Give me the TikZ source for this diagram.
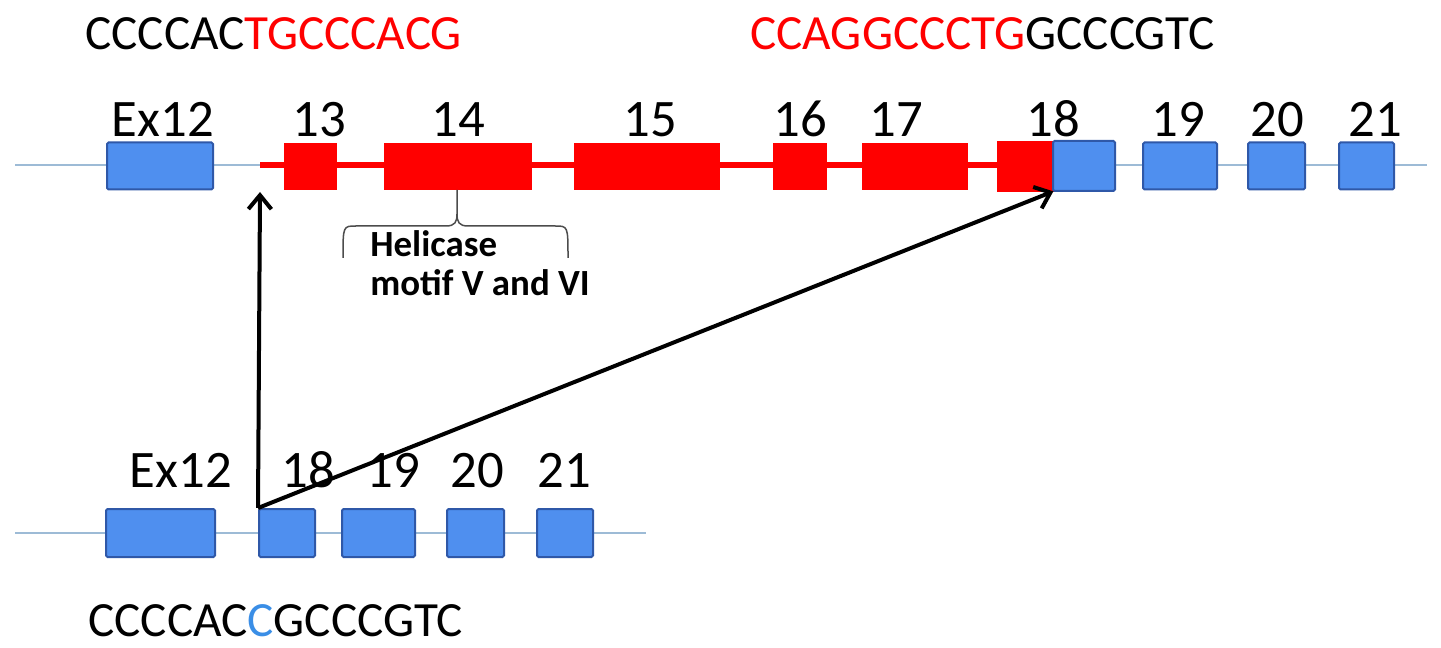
\documentclass[tikz,border=0pt]{standalone}
\usepackage{fontspec}
\setmainfont{Carlito}
\usepackage{tikz}
\usetikzlibrary{arrows.meta, positioning}

\definecolor{exonblue}{HTML}{4F8FEF}
\definecolor{exonedge}{HTML}{2F58A8}
\definecolor{intron}{HTML}{9DBBD6}
\definecolor{mutblue}{HTML}{3A8EE6}

\begin{document}
\begin{tikzpicture}[x=0.2mm, y=-0.2mm,
  exon/.style = {draw=exonedge, fill=exonblue, line width=0.4mm, rounded corners=0.3mm,
                 inner sep=0, minimum height=9.4mm},
  lost/.style = {draw=red, fill=red, inner sep=0, minimum height=9.2mm},
  num/.style = {anchor=base, font=\fontsize{30}{36}\selectfont},
  seq/.style = {anchor=base west, inner sep=0, font=\fontsize{28}{34}\selectfont},
  jump/.style = {-{Straight Barb[length=2.8mm, width=4.6mm]}, line width=0.8mm}]
  \path [use as bounding box] (0,0) rectangle (1441,648);

  % backbones
  \coordinate (topL) at (15,165);
  \coordinate (topR) at (1427,165);
  \coordinate (botL) at (15,533);
  \coordinate (botR) at (646,533);
  \coordinate (splice) at (260,165);
  \coordinate (redend) at (1000,165);
  \draw [intron, line width=0.35mm] (topL) -- (topR);
  \draw [intron, line width=0.35mm] (botL) -- (botR);
  \draw [red, line width=1.2mm] (splice) -- (redend);

  % wild type
  \node (tEx12) [exon, minimum width=21.2mm] at (160,166) {};
  \node (t13) [lost, minimum width=10.4mm] at (310,166) {};
  \node (t14) [lost, minimum width=29.4mm] at (457.5,166) {};
  \node (t15) [lost, minimum width=29mm] at (646.5,166) {};
  \node (t16) [lost, minimum width=10.6mm] at (799.5,166) {};
  \node (t17) [lost, minimum width=21mm] at (914.5,166) {};
  \node (t18a) [lost, minimum width=11.2mm, minimum height=10mm] at (1025,166) {};
  \node (t18b) [exon, minimum width=12.4mm, minimum height=10mm] at (1084,166) {};
  \node (t19) [exon, minimum width=14.8mm] at (1180,166) {};
  \node (t20) [exon, minimum width=11.4mm] at (1276.5,166) {};
  \node (t21) [exon, minimum width=11mm] at (1366.5,166) {};

  \node (lEx12) [num] at (163,137) {Ex12};
  \node (l13) [num] at (319,137) {13};
  \node (l14) [num] at (458,137) {14};
  \node (l15) [num] at (650,137) {15};
  \node (l16) [num] at (800,137) {16};
  \node (l17) [num] at (896,137) {17};
  \node (l18) [num] at (1053,137) {18};
  \node (l19) [num] at (1178,137) {19};
  \node (l20) [num] at (1277,137) {20};
  \node (l21) [num] at (1375,137) {21};

  \node (seqA) [seq] at (85,50) {CCCCAC\textcolor{red}{TGCCCACG}};
  \node (seqB) [seq] at (750,50) {\textcolor{red}{CCAGGCCCTG}GCCCGTC};

  % helicase motifs
  \coordinate (braceL) at (343,258);
  \coordinate (braceR) at (568,258);
  \coordinate (braceTip) at (457,190);
  \draw [line width=0.3mm, black!70]
    (braceL) .. controls (343,226) .. (356,226) -- (446,226)
    .. controls (455,226) and (457,222) .. (457,214) -- (braceTip)
    (457,214) .. controls (457,222) and (459,226) .. (468,226) -- (555,226)
    .. controls (568,226) .. (braceR);
  \node (motif) [anchor=base west, align=left, inner sep=0,
                 font=\bfseries\fontsize{21}{22.4}\selectfont] at (370,296)
    {Helicase\\motif V and VI};

  % deletion
  \node (bEx12) [exon, minimum width=21.8mm, minimum height=9.6mm] at (160.5,533) {};
  \node (b18) [exon, minimum width=11.2mm, minimum height=9.6mm] at (287,533) {};
  \node (b19) [exon, minimum width=14.6mm, minimum height=9.6mm] at (378.5,533) {};
  \node (b20) [exon, minimum width=11.4mm, minimum height=9.6mm] at (475.5,533) {};
  \node (b21) [exon, minimum width=11.2mm, minimum height=9.6mm] at (565,533) {};

  \node (mEx12) [num] at (181,487) {Ex12};
  \node (m18) [num] at (308,487) {18};
  \node (m19) [num] at (393,487) {19};
  \node (m20) [num] at (477,487) {20};
  \node (m21) [num] at (564,487) {21};

  \node (seqC) [seq] at (88,636) {CCCCAC\textcolor{mutblue}{C}GCCCGTC};

  \coordinate (cut) at (260,192);
  \draw [jump] (b18.north west) -- (cut);
  \draw [jump] (b18.north west) -- (t18a.south east);
\end{tikzpicture}
\end{document}
